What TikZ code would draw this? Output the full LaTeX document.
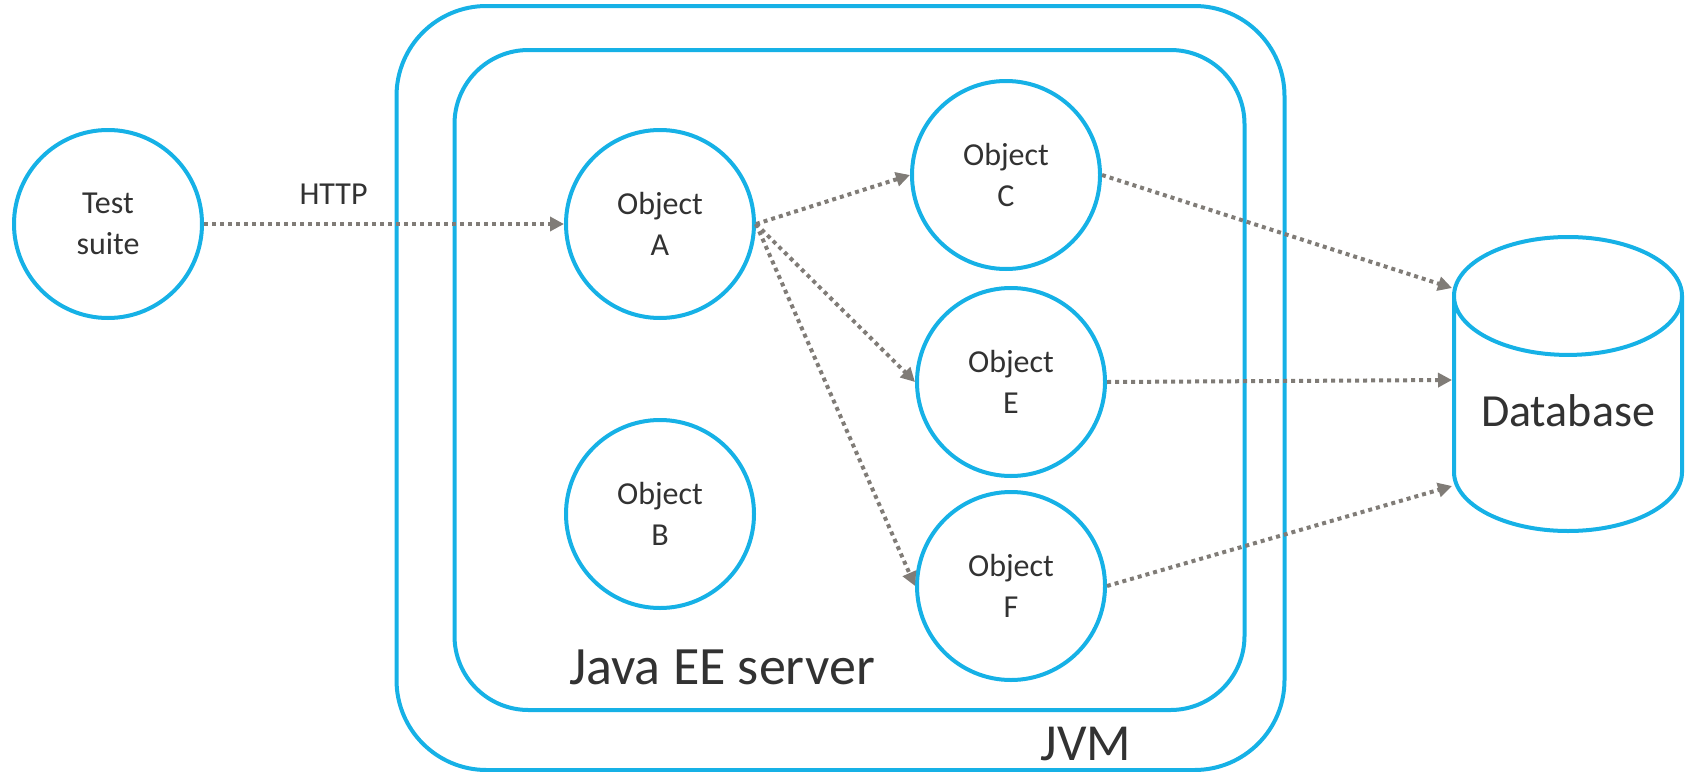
\documentclass[tikz,border=0pt]{standalone}
\usepackage{fontspec}
\setmainfont{Carlito}
\usetikzlibrary{arrows.meta,shapes.geometric}
\definecolor{skyline}{RGB}{22,177,230}
\definecolor{arrowgrey}{RGB}{128,124,119}
\definecolor{inkgrey}{RGB}{50,50,50}
\begin{document}
\begin{tikzpicture}[line join=round,x=0.5pt,y=-0.5pt,
	obj/.style={circle,draw=skyline,line width=2pt,minimum size=94pt,inner sep=0pt,align=center,font=\fontsize{16}{20.5}\selectfont,text=inkgrey},
	box/.style={draw=skyline,line width=2pt,rounded corners=#1,inner sep=0pt},
	box/.default=40pt,
	tag/.style={text=inkgrey,inner sep=0pt,font=\fontsize{#1}{#1}\selectfont},
	call/.style={draw=arrowgrey,line width=2pt,dash pattern=on 2pt off 2pt,-{Triangle[length=7pt,width=7pt]}}]
	\useasboundingbox (0,0) rectangle (1686,771);
	\node[box=45pt,minimum width=444pt,minimum height=382pt] (jvm) at (840.5,388) {};
	\node[box=37pt,minimum width=395pt,minimum height=330pt] (server) at (849.5,380) {};
	\node[tag=26] (jvmtag) at (1086,744) {JVM};
	\node[tag=27] (servertag) at (722,667) {Java EE server};
	\node[obj] (suite) at (108,224) {Test\\suite};
	\node[obj] (objA) at (660,224) {Object\\A};
	\node[obj] (objB) at (660,514) {Object\\B};
	\node[obj] (objC) at (1006,175) {Object\\C};
	\node[obj] (objE) at (1011,382) {Object\\E};
	\node[obj] (objF) at (1011,586) {Object\\F};
	\node[cylinder,shape border rotate=90,draw=skyline,line width=2pt,aspect=0.63,minimum width=114pt,minimum height=147pt,text=inkgrey,font=\fontsize{23}{23}\selectfont,anchor=shape center] (db) at (1568,384) {\raisebox{13.5pt}{Database}};
	\coordinate (dbside) at (db.shape center -| db.west);
	\draw[call] (suite) -- node[pos=0.36,above=9pt,tag=16] {HTTP} (objA);
	\draw[call] (objA.east) -- (objC.west);
	\draw[call] (objA.east) -- (objE.west);
	\draw[call] (objA.east) -- (objF.west);
	\draw[call] (objC.east) -- ([yshift=48pt]dbside);
	\draw[call] (objE.east) -- ([yshift=2pt]dbside);
	\draw[call] (objF.east) -- ([yshift=-51pt]dbside);
\end{tikzpicture}
\end{document}
